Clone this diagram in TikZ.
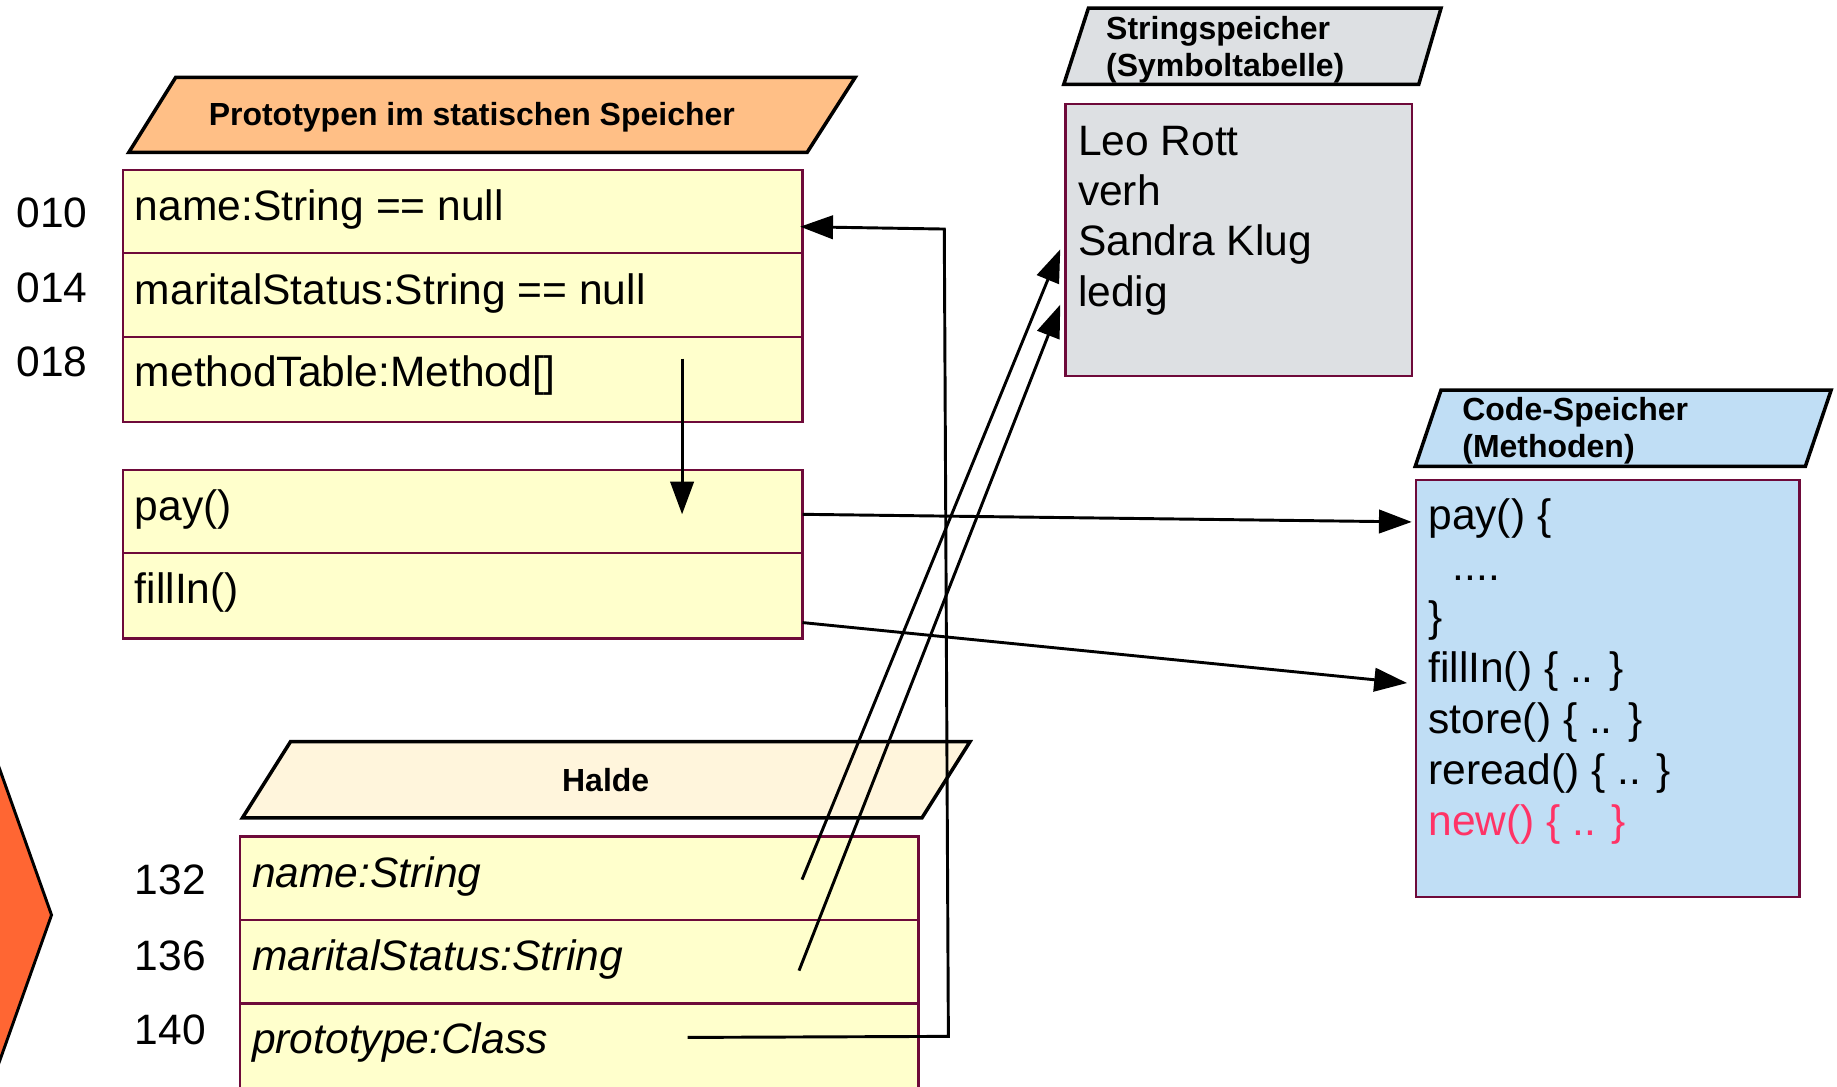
\documentclass[tikz,border=0pt]{standalone}
\usepackage{fontspec}
\setmainfont{Liberation Sans}
\usetikzlibrary{arrows.meta}
\definecolor{hdrorange}{RGB}{255,191,134}
\definecolor{rowyellow}{RGB}{255,255,204}
\definecolor{boxborder}{RGB}{110,10,58}
\definecolor{strgray}{RGB}{221,224,227}
\definecolor{codeblue}{RGB}{192,222,245}
\definecolor{haldehdr}{RGB}{255,245,220}
\definecolor{chevorange}{RGB}{255,102,51}
\definecolor{newred}{RGB}{255,51,102}
\begin{document}
\begin{tikzpicture}[x=1pt,y=-1pt,
  rowbox/.style={draw=boxborder, line width=1.8pt, fill=rowyellow, inner sep=0pt},
  membox/.style={draw=boxborder, line width=1.8pt, inner sep=0pt},
  hdrshape/.style={draw=black, line width=3pt, line join=miter},
  hdrtext/.style={font=\fontsize{27.3}{32}\selectfont\bfseries, anchor=base west, inner sep=0pt},
  body/.style={font=\fontsize{36.3}{43}\selectfont, anchor=base west, inner sep=0pt},
  ibody/.style={body, font=\fontsize{36.3}{43}\selectfont\itshape},
  conn/.style={line width=2.5pt, line join=miter, -{Triangle[length=28pt,width=20pt]}},
  plainline/.style={line width=2.5pt}
]
\useasboundingbox (0,0) rectangle (1568,927);

% left chevron
\filldraw[fill=chevorange, draw=black, line width=2.5pt] (-20,601) -- (44,781) -- (-20,961) -- cycle;

% ---- Prototypen header
\draw[hdrshape, fill=hdrorange] (150,66) -- (730,66) -- (689,130) -- (110,130) -- cycle;
\node[hdrtext] (protoH) at (178,107) {Prototypen im statischen Speicher};

% prototype rows
\node[rowbox, minimum width=580pt, minimum height=71pt] (r010) at (395,180.5) {};
\node[rowbox, minimum width=580pt, minimum height=72pt] (r014) at (395,252) {};
\node[rowbox, minimum width=580pt, minimum height=72pt] (r018) at (395,324) {};
\node[body] (t010) at (115,188) {name:String == null};
\node[body] (t014) at (115,259.5) {maritalStatus:String == null};
\node[body] (t018) at (115,330) {methodTable:Method[]};
\node[body] (a010) at (14,194.5) {010};
\node[body] (a014) at (14,258) {014};
\node[body] (a018) at (14,321.5) {018};

% method table rows
\node[rowbox, minimum width=580pt, minimum height=71pt] (rpay) at (395,436.5) {};
\node[rowbox, minimum width=580pt, minimum height=73pt] (rfill) at (395,508.5) {};
\node[body] (tpay) at (115,444) {pay()};
\node[body] (tfill) at (115,515) {fillIn()};

% ---- Stringspeicher
\draw[hdrshape, fill=strgray] (929,7) -- (1230,7) -- (1211,72) -- (908,72) -- cycle;
\node[hdrtext] (strH1) at (944,33.5) {Stringspeicher};
\node[hdrtext] (strH2) at (944,65.5) {(Symboltabelle)};
\node[membox, fill=strgray, minimum width=295.5pt, minimum height=232pt] (strbox) at (1057.25,205) {};
\node[body] (s1) at (920,132.5) {Leo Rott};
\node[body] (s2) at (920,175.5) {verh};
\node[body] (s3) at (920,218.5) {Sandra Klug};
\node[body] (s4) at (920,261.5) {ledig};

% ---- Code-Speicher
\draw[hdrshape, fill=codeblue] (1230,333) -- (1563,333) -- (1541,398) -- (1208,398) -- cycle;
\node[hdrtext] (codeH1) at (1248,358.5) {Code-Speicher};
\node[hdrtext] (codeH2) at (1248,390.5) {(Methoden)};
\node[membox, fill=codeblue, minimum width=327pt, minimum height=356.5pt] (codebox) at (1372.5,587.75) {};
\node[body] (c1) at (1219,452) {pay() \{};
\node[body] (c2) at (1240,495.5) {....};
\node[body] (c3) at (1219,539) {\}};
\node[body] (c4) at (1219,582.5) {fillIn() \{ .. \}};
\node[body] (c5) at (1219,626) {store() \{ .. \}};
\node[body] (c6) at (1219,669.5) {reread() \{ .. \}};
\node[body, text=newred] (c7) at (1219,713) {new() \{ .. \}};

% ---- Halde
\draw[hdrshape, fill=haldehdr] (248,633) -- (828,633) -- (787,698) -- (207,698) -- cycle;
\node[hdrtext, anchor=base] (haldeH) at (517,675.5) {Halde};
\node[rowbox, minimum width=579pt, minimum height=71pt] (h132) at (494.5,749.5) {};
\node[rowbox, minimum width=579pt, minimum height=71.5pt] (h136) at (494.5,820.75) {};
\node[rowbox, minimum width=579pt, minimum height=74pt] (h140) at (494.5,893.5) {};
\node[ibody] (th132) at (215,757.5) {name:String};
\node[ibody] (th136) at (215,828) {maritalStatus:String};
\node[ibody] (th140) at (215,899) {prototype:Class};
\node[body] (a132) at (115,763.5) {132};
\node[body] (a136) at (115,828) {136};
\node[body] (a140) at (115,891.5) {140};

% ---- connector end points
\coordinate (pStart) at (587,885.5);
\coordinate (pC1) at (809.5,884.6);
\coordinate (pC2) at (806,195.5);
\coordinate (pEnd) at (683,193.5);
\coordinate (nStart) at (684.6,750.8);
\coordinate (nEnd) at (905,212.8);
\coordinate (mStart) at (682,828.5);
\coordinate (mEnd) at (905,260);
\coordinate (mtStart) at (582.2,306);
\coordinate (mtEnd) at (582.2,439);
\coordinate (payStart) at (685,439);
\coordinate (payEnd) at (1205,445.5);
\coordinate (fillStart) at (685,531.4);
\coordinate (fillEnd) at (1201,583);

% ---- connectors
\draw[conn] (pStart) -- (pC1) -- (pC2) -- (pEnd);
\draw[conn] (nStart) -- (nEnd);
\draw[conn] (mStart) -- (mEnd);
\draw[conn] (mtStart) -- (mtEnd);
\draw[conn] (payStart) -- (payEnd);
\draw[conn] (fillStart) -- (fillEnd);
\end{tikzpicture}
\end{document}
